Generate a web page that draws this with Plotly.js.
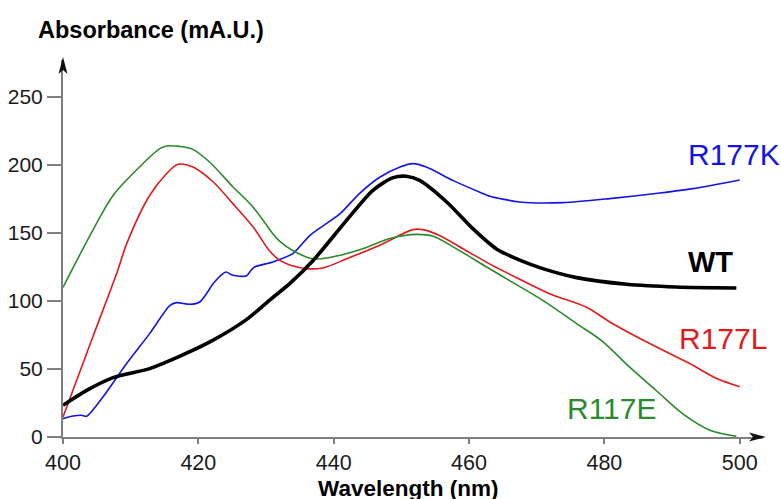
<!DOCTYPE html>
<html>
<head>
<meta charset="utf-8">
<script src="https://cdn.plot.ly/plotly-3.0.1.min.js"></script>
<style>html,body{margin:0;padding:0;background:#fff;}#chart{width:781px;height:499px;}</style>
</head>
<body>
<div id="chart"></div>
<script>
// ---- data ----
const wtX = [400, 403.5, 407.4, 412.8, 416.8, 421.7, 427.1, 430.5, 432, 433.5, 437, 441.9, 445.8, 448.8, 450.7, 452.7, 456.7, 460.6, 464, 467.5, 470.9, 475.9, 483.3, 490.6, 499.5];
const wtY = [23.3, 34.3, 43.7, 50.3, 58.4, 69.9, 86.3, 100.5, 106.6, 112.8, 130, 159.3, 181.4, 190.7, 191.7, 188.7, 172.8, 153, 138.5, 130, 123.8, 117.2, 112.3, 110.3, 109.6];

const r177kX = [400, 401.5, 402.7, 403.5, 405.9, 409.4, 412.8, 415.8, 416.8, 418.7, 420.2, 421.2, 422.2, 423.6, 424.1, 425.1, 427.1, 427.8, 428.3, 431, 434, 436.5, 440.9, 443.8, 446.8, 449.8, 451.7, 453.7, 457.6, 461.6, 463.1, 467.5, 473.9, 480.8, 488.2, 493.1, 500];
const r177kY = [13.5, 15.4, 16, 15.2, 29.4, 54, 76, 96.8, 98.8, 97.6, 99.3, 105.4, 112.8, 120, 121.3, 118.9, 118.4, 122.6, 125, 128.7, 135, 148.3, 164, 179, 191, 198.5, 201, 198.5, 188.7, 180, 177, 172.8, 172.3, 175.3, 179.4, 182.6, 189];

const r177lX = [400, 404.4, 408.1, 409.4, 412.8, 415.3, 417, 419.2, 422.2, 425.1, 428.1, 430.5, 432, 433.5, 436, 438.4, 441.9, 446.8, 451.7, 453.2, 455.7, 459.6, 463.5, 467.5, 471.9, 477.3, 480.8, 486.7, 492.6, 496.6, 500];
const r177lY = [14.7, 73.5, 122.6, 142, 177.6, 193.6, 200.5, 198.5, 187.5, 171.6, 154.4, 137, 130, 126.5, 123.8, 124.3, 131, 141, 152.5, 152.5, 148, 137, 126, 116, 105.4, 95.6, 84.6, 68.7, 54, 43, 37];

const r117eX = [400, 404.4, 407.4, 411.3, 414.3, 415.3, 417.2, 419.2, 421.7, 425.1, 428.1, 431, 432, 434, 436.9, 439.4, 444.3, 448.3, 452.2, 454.7, 458.6, 462.6, 466, 470.9, 475.9, 479.8, 483.7, 487.7, 491.6, 495.6, 499.5];
const r117eY = [110, 152, 177.6, 198.5, 212, 214, 213.7, 211.5, 202, 184, 169, 149.5, 144, 137, 131, 132, 138.5, 146, 149, 147.6, 137, 125, 115, 100.5, 83.4, 70, 51.5, 34, 17, 5, 0.5];

const xTicks = [400, 420, 440, 460, 480, 500];
const yTicks = [0, 50, 100, 150, 200, 250];

const seriesNames = ['R177K', 'R177L', 'R117E', 'WT'];
const labelX = [499.1, 497.6, 481.1, 495.7];
const labelY = [207.9, 72.6, 21.1, 128.4];

// ---- styles ----
const colors = {R177K: '#1414e6', R177L: '#e31a1c', R117E: '#2b8a2b', WT: '#000000'};
const FONT = 'Liberation Sans, Arial, Helvetica, sans-serif';

const traces = [
  {x: r177kX, y: r177kY, name: 'R177K', mode: 'lines', line: {color: colors.R177K, width: 1.6, shape: 'spline', smoothing: 0.7}},
  {x: r177lX, y: r177lY, name: 'R177L', mode: 'lines', line: {color: colors.R177L, width: 1.6, shape: 'spline', smoothing: 0.9}},
  {x: r117eX, y: r117eY, name: 'R117E', mode: 'lines', line: {color: colors.R117E, width: 1.6, shape: 'spline', smoothing: 0.9}},
  {x: wtX, y: wtY, name: 'WT', mode: 'lines', line: {color: colors.WT, width: 3.6, shape: 'spline', smoothing: 0.8}}
];

// layout geometry
const L = 63, R = 18, T = 60, B = 62, W = 781, H = 499;
const pw = W - L - R, ph = H - T - B;
const px = v => (v - L) / pw;          // pixel x -> paper
const py = v => (H - B - v) / ph;      // pixel y -> paper

const axisCol = '#7f7f7f';

const annotations = seriesNames.map((n, i) => ({
  x: labelX[i], y: labelY[i], xref: 'x', yref: 'y', text: n, showarrow: false,
  xanchor: 'center', yanchor: 'middle',
  font: {family: FONT, size: n === 'WT' ? 29 : 30, color: colors[n], weight: n === 'WT' ? 'bold' : 'normal'}
}));
annotations.push({
  x: px(36), y: py(30), xref: 'paper', yref: 'paper', xanchor: 'left', yanchor: 'middle',
  text: '<b>Absorbance (mA.U.)</b>', showarrow: false, font: {family: FONT, size: 23.5, color: '#000'}
});
annotations.push({
  x: px(408), y: py(488), xref: 'paper', yref: 'paper', xanchor: 'center', yanchor: 'middle',
  text: '<b>Wavelength (nm)</b>', showarrow: false, font: {family: FONT, size: 22.5, color: '#000'}
});

// arrowheads at axis ends
const ax0 = L, ay0 = H - B;
function pth(pts) { return 'M' + pts.map(p => px(p[0]) + ',' + py(p[1])).join(' L') + ' Z'; }
const shapes = [
  {type: 'path', xref: 'paper', yref: 'paper', line: {width: 0}, fillcolor: '#111',
   path: pth([[ax0, 57], [ax0 - 4.5, 74], [ax0, 70], [ax0 + 4.5, 74]])},
  {type: 'path', xref: 'paper', yref: 'paper', line: {width: 0}, fillcolor: '#111',
   path: pth([[766, ay0], [749, ay0 - 4.5], [753, ay0], [749, ay0 + 4.5]])}
];

const layout = {
  width: W, height: H,
  margin: {l: L, r: R, t: T, b: B, pad: 0},
  paper_bgcolor: '#fff', plot_bgcolor: '#fff',
  showlegend: false,
  font: {family: FONT, color: '#1a1a1a'},
  xaxis: {
    range: [400, 400 + pw / 6.767], tickvals: xTicks, ticktext: xTicks.map(String),
    showgrid: false, zeroline: false, showline: true, linecolor: axisCol, linewidth: 2,
    ticks: 'outside', ticklen: 5, tickwidth: 2, tickcolor: axisCol,
    tickfont: {family: FONT, size: 21.5, color: '#1a1a1a'}, fixedrange: true
  },
  yaxis: {
    range: [0, ph / 1.36], tickvals: yTicks, ticktext: yTicks.map(String),
    showgrid: false, zeroline: false, showline: true, linecolor: axisCol, linewidth: 2,
    ticks: 'outside', ticklen: 14, tickwidth: 2, tickcolor: axisCol,
    tickfont: {family: FONT, size: 21, color: '#1a1a1a'}, fixedrange: true
  },
  annotations: annotations,
  shapes: shapes
};

Plotly.newPlot('chart', traces, layout, {displayModeBar: false, staticPlot: true});
</script>
</body>
</html>
